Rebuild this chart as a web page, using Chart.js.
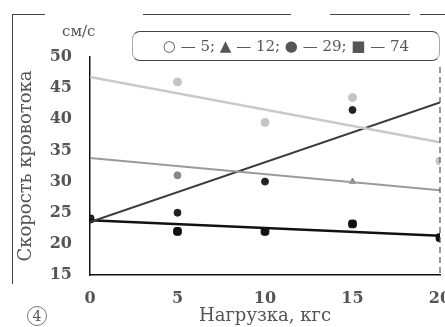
<!DOCTYPE html>
<html>
<head>
<meta charset="utf-8">
<script src="https://cdn.jsdelivr.net/npm/chart.js@4"></script>
<style>
  html, body { margin: 0; padding: 0; background: #fff; }
  #wrap { position: relative; width: 445px; height: 327px; overflow: hidden; }
  #box { position: absolute; left: 0; top: 0; width: 460px; height: 327px; }
  .txt { position: absolute; font-family: "DejaVu Serif", serif; color: #555; white-space: nowrap; }
  #legend { left: 132px; top: 31px; width: 306px; height: 28px; line-height: 28px; font-size: 15px;
            border: 1.5px solid #444; border-radius: 8px; border-left-color: #aaa; border-right-color: #aaa; text-align: center; }
  #unit { left: 62px; top: 22px; font-size: 15px; }
  #num { left: 27px; top: 306px; width: 18px; height: 18px; line-height: 18px; font-size: 14px;
         border: 1.5px solid #777; border-radius: 50%; text-align: center; }
  .frame { position: absolute; background: #444; }
</style>
</head>
<body>
<div id="wrap">
  <div id="box"><canvas id="js-flowChart" width="460" height="327"></canvas></div>
  <div class="frame" style="left:12px;top:14px;width:1px;height:270px;"></div>
  <div class="frame" style="left:12px;top:14px;width:33px;height:1px;"></div>
  <div class="frame" style="left:143px;top:14px;width:148px;height:1px;"></div>
  <div class="frame" style="left:330px;top:14px;width:80px;height:1px;"></div>
  <div class="frame" style="left:420px;top:14px;width:25px;height:1px;"></div>
  <div class="txt" id="unit">см/с</div>
  <div class="txt" id="legend">○ — 5; ▲ — 12; ● — 29; ■ — 74</div>
  <div class="txt" id="num">4</div>
</div>
<script>
// нагрузка, кгс
const load = [0, 5, 10, 15, 20];
const fitX = [0, 20];

// измеренные точки (null = не видно)
const pts5  = [null, 46, 39.5, 43.5, 33.3];
const pts12 = [null, 31, null, 30, null];
const pts29 = [24, 25, 30, 41.5, null];
const pts74 = [24, 22, 22, 23.2, 21];

// линии регрессии, значения при 0 и 20 кгс
const fit5  = [46.8, 36.3];
const fit12 = [33.8, 28.6];
const fit29 = [23.5, 42.7];
const fit74 = [23.8, 21.3];

const xTicks = [0, 5, 10, 15, 20];
const yTicks = [15, 20, 25, 30, 35, 40, 45, 50];

function toPoints(xs, ys) {
    var arr = [];
    for (var i = 0; i < xs.length; i++) {
        if (ys[i] !== null) arr.push({x: xs[i], y: ys[i]});
    }
    return arr;
}

const rightDash = {
    id: 'rightDash',
    afterDraw(chart) {
        const c = chart.ctx, a = chart.chartArea;
        c.save();
        c.strokeStyle = '#555';
        c.lineWidth = 1.2;
        c.setLineDash([6, 4]);
        c.beginPath();
        c.moveTo(a.right, a.top + 10);
        c.lineTo(a.right, a.bottom);
        c.stroke();
        c.restore();
    }
};

const tickFont = { family: 'DejaVu Serif', size: 16, weight: 'bold' };

const ctx = document.getElementById('js-flowChart');
new Chart(ctx, {
    data: {
        datasets: [
            { type: 'line', data: toPoints(fitX, fit5), borderColor: '#c9c9c9', borderWidth: 2.5, pointRadius: 0 },
            { type: 'line', data: toPoints(fitX, fit12), borderColor: '#9a9a9a', borderWidth: 2, pointRadius: 0 },
            { type: 'line', data: toPoints(fitX, fit29), borderColor: '#3a3a3a', borderWidth: 2, pointRadius: 0 },
            { type: 'line', data: toPoints(fitX, fit74), borderColor: '#111', borderWidth: 2.5, pointRadius: 0 },
            { type: 'scatter', data: toPoints(load, pts5), pointStyle: 'circle', pointRadius: 4, backgroundColor: '#c4c4c4', borderColor: '#c4c4c4' },
            { type: 'scatter', data: toPoints(load, pts12), pointStyle: ['circle', 'triangle'], pointRadius: 3.5, backgroundColor: '#888', borderColor: '#888' },
            { type: 'scatter', data: toPoints(load, pts29), pointStyle: 'circle', pointRadius: 3.5, backgroundColor: '#222', borderColor: '#222' },
            { type: 'scatter', data: toPoints(load, pts74), pointStyle: 'rectRounded', pointRadius: 4.5, backgroundColor: '#111', borderColor: '#111' }
        ]
    },
    options: {
        responsive: false,
        animation: false,
        layout: { padding: { left: 16, top: 57, right: 20, bottom: 0 } },
        plugins: {
            legend: { display: false },
            tooltip: { enabled: false }
        },
        scales: {
            x: {
                type: 'linear',
                min: 0, max: 20,
                afterBuildTicks: (s) => { s.ticks = xTicks.map(v => ({value: v})); },
                grid: { display: false },
                border: { display: true, color: '#111', width: 1.5 },
                ticks: { color: '#555', padding: 6, font: tickFont },
                title: { display: true, text: 'Нагрузка, кгс', color: '#555', padding: { top: 0, bottom: 0 },
                         font: { family: 'DejaVu Serif', size: 18 } },
                afterFit: (s) => { s.height = 52; }
            },
            y: {
                min: 15, max: 50,
                afterBuildTicks: (s) => { s.ticks = yTicks.map(v => ({value: v})); },
                grid: { display: false },
                border: { display: true, color: '#111', width: 1.5 },
                ticks: { color: '#555', padding: 10, font: tickFont },
                title: { display: true, text: 'Скорость кровотока', color: '#555', padding: { top: 0, bottom: 4 },
                         font: { family: 'DejaVu Serif', size: 18 } },
                afterFit: (s) => { s.width = 74; }
            }
        }
    },
    plugins: [rightDash]
});
</script>
</body>
</html>
